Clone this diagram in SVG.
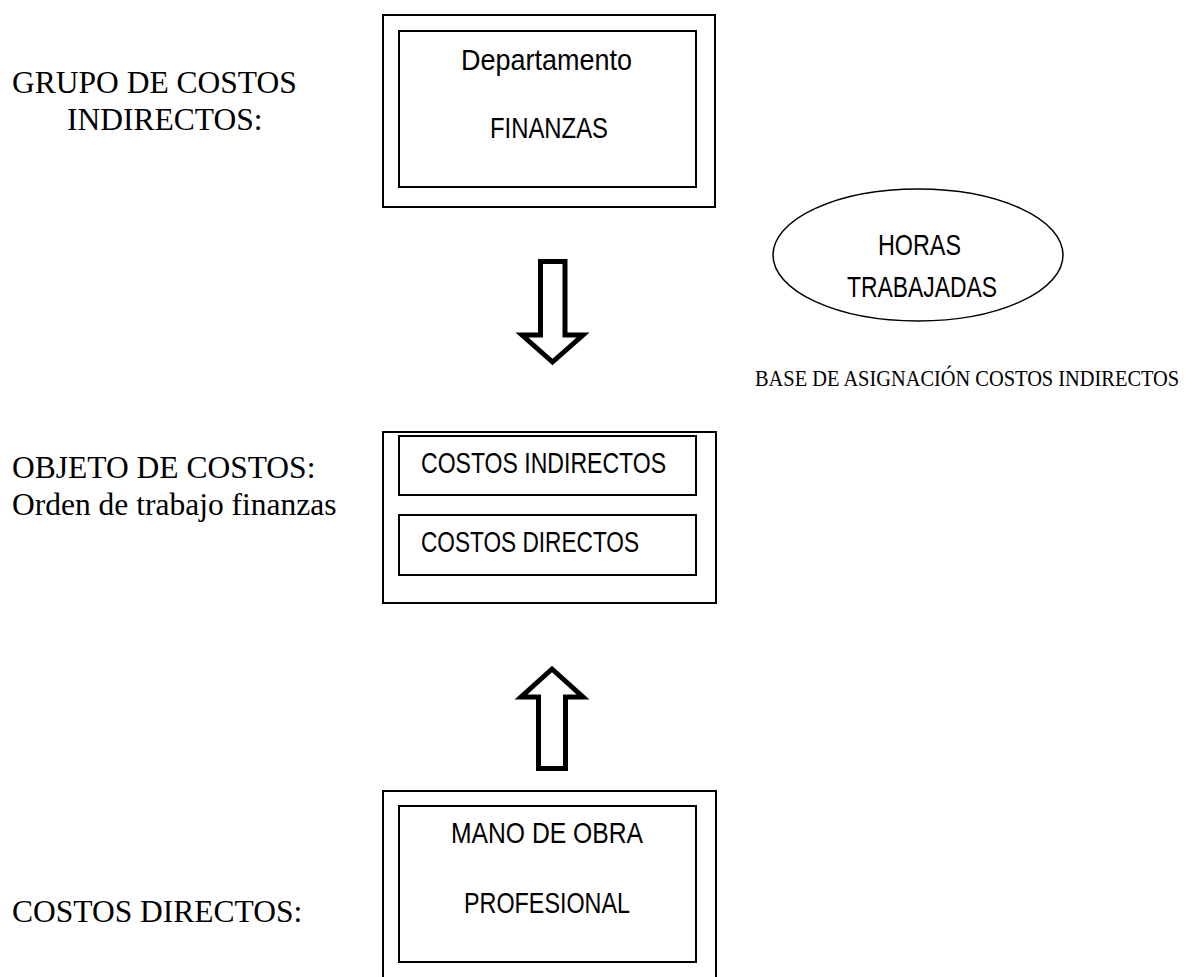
<svg xmlns="http://www.w3.org/2000/svg" width="1192" height="977" viewBox="0 0 1192 977">
<style>
.box{fill:none;stroke:#000;stroke-width:2}
.arr{fill:#fff;stroke:#000;stroke-width:5;stroke-linejoin:miter}
.ser{font-family:"Liberation Serif","Times New Roman",serif;font-size:31.5px;fill:#000}
.san{font-family:"Liberation Sans Narrow","Arial Narrow","Liberation Sans",sans-serif;font-size:29px;fill:#000}
</style>
<rect width="1192" height="977" fill="#fff"/>
<g id="labels">
<text class="ser" x="12" y="93">GRUPO DE COSTOS</text>
<text class="ser" x="67" y="130">INDIRECTOS:</text>
<text class="ser" x="12" y="478">OBJETO DE COSTOS:</text>
<text class="ser" x="12" y="515">Orden de trabajo finanzas</text>
<text class="ser" x="12" y="922">COSTOS DIRECTOS:</text>
<text class="ser" transform="translate(755,386) scale(0.85,1)" x="0" y="0" style="font-size:24px">BASE DE ASIGNACIÓN COSTOS INDIRECTOS</text>
</g>
<g id="finanzas">
<rect class="box" x="383" y="15" width="332" height="192"/>
<rect class="box" x="399" y="31" width="297" height="156"/>
<text class="san" x="461" y="70" textLength="171" lengthAdjust="spacingAndGlyphs">Departamento</text>
<text class="san" x="490" y="138" textLength="118" lengthAdjust="spacingAndGlyphs">FINANZAS</text>
</g>
<g id="horas">
<ellipse cx="918" cy="255" rx="145" ry="66" fill="none" stroke="#000" stroke-width="1.5"/>
<text class="san" x="878" y="255" textLength="83" lengthAdjust="spacingAndGlyphs">HORAS</text>
<text class="san" x="847" y="297" textLength="150" lengthAdjust="spacingAndGlyphs">TRABAJADAS</text>
</g>
<g id="objeto">
<rect class="box" x="383" y="432" width="333" height="171"/>
<rect class="box" x="399" y="436" width="297" height="59"/>
<rect class="box" x="399" y="515" width="297" height="60"/>
<text class="san" x="421" y="473" textLength="245" lengthAdjust="spacingAndGlyphs">COSTOS INDIRECTOS</text>
<text class="san" x="421" y="552" textLength="218" lengthAdjust="spacingAndGlyphs">COSTOS DIRECTOS</text>
</g>
<g id="mano">
<rect class="box" x="383" y="791" width="333" height="200"/>
<rect class="box" x="399" y="806" width="297" height="156"/>
<text class="san" x="451" y="843" textLength="192" lengthAdjust="spacingAndGlyphs">MANO DE OBRA</text>
<text class="san" x="464" y="913" textLength="166" lengthAdjust="spacingAndGlyphs">PROFESIONAL</text>
</g>
<g id="connectors">
<polygon class="arr" points="540.5,261.5 565,261.5 565,335 583,335 552.5,362 522,335 540.5,335"/>
<polygon class="arr" points="552,669 583,697 565.5,697 565.5,768.5 538.5,768.5 538.5,697 521,697"/>
</g>
</svg>
